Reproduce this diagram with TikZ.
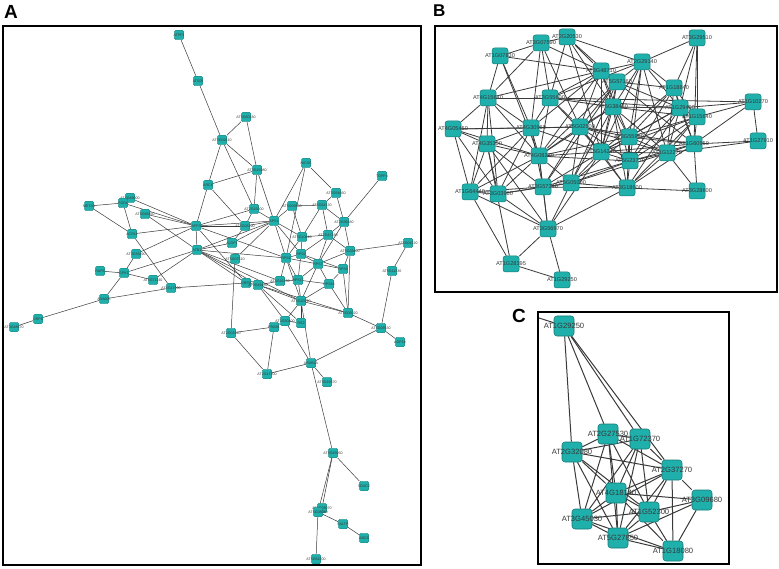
\documentclass[tikz,border=0pt]{standalone}
\usepackage{fontspec}
\setmainfont{Liberation Sans}
\usetikzlibrary{backgrounds}

\definecolor{geneteal}{RGB}{32,176,172}
\definecolor{generim}{RGB}{22,122,120}
\definecolor{linkgray}{RGB}{58,58,58}
\definecolor{namegray}{RGB}{55,55,55}

\tikzset{
    gene/.style={rectangle, draw=generim, fill=geneteal, inner sep=0pt},
    geneA/.style={gene, minimum size=9.5pt, rounded corners=1.5pt, line width=0.35pt},
    geneB/.style={gene, minimum size=16pt, rounded corners=2.5pt, line width=0.5pt},
    geneC/.style={gene, minimum size=20pt, rounded corners=3pt, line width=0.6pt},
    panel/.style={draw=black, line width=1.1pt},
    letter/.style={font=\bfseries\fontsize{19}{19}\selectfont, anchor=base west, inner sep=0pt}
}

\begin{document}
\begin{tikzpicture}[x=1pt, y=-1pt]
    \useasboundingbox (0,0) rectangle (779,569);

    % panel frames and letters
    \draw[panel] (3,26) rectangle (421,565);
    \draw[panel] (435,26) rectangle (777,292);
    \draw[panel] (538,312) rectangle (729,564);
    \node[letter] (letA) at (4,19) {A};
    \node[letter, font=\bfseries\fontsize{17}{17}\selectfont] (letB) at (433,17) {B};
    \node[letter] (letC) at (512,323) {C};

    % ---- panel A ----
    \begin{scope}[every label/.style={font=\fontsize{3.6}{4}\selectfont, text=namegray, inner sep=0pt}]
    \foreach \nm/\x/\y/\lb in {a1/179/35/ATPF1, a2/198/81/ATSDI, a3/246/117/AT5G60180, a4/222/140/AT5G02610,
        a5/257/170/AT3G15980, a6/306/163/NICSS, a7/208/185/ARC6, a8/336/193/AT5G54660, a9/382/176/TOPP4,
        a10/130/198/AT5G49000, a11/89/206/METS1, a12/123/203/PGDL, a13/145/214/AT5G66850, a14/132/234/ACR11,
        a15/136/254/AT3G36490, a16/100/271/RAF6, a17/124/273/GPK1, a18/153/280/AT5G71140, a19/171/288/AT5G17990,
        a20/104/299/ARA005, a21/38/319/GRP8, a22/14/327/AT3G48670, a23/196/226/AFP3, a24/197/250/ATB1,
        a25/254/209/AT2G15000, a26/292/206/AT5G09830, a27/322/205/AT5G64130, a28/274/221/APS1,
        a29/245/226/AT5G06290, a30/344/222/AT2G36880, a31/232/243/ALDP1, a32/235/259/AT5G07510,
        a33/302/237/AT5G10810, a34/328/235/AT2G47180, a35/350/251/AT5G38400, a36/286/258/RPS1,
        a37/301/254/RPS2, a38/318/264/RPS7, a39/343/269/RPS9, a40/408/243/AT5G04220, a41/392/271/AT5G11230,
        a42/246/283/GRP9, a43/258/285/AT3G49480, a44/280/281/AT5G16130, a45/298/280/RPS17, a46/329/284/RPS18,
        a47/301/301/AT5G20290, a48/348/313/AT5G06020, a49/285/321/AT3G50400, a50/301/323/RS2,
        a51/274/327/PRAB1, a52/231/333/AT2G01540, a53/381/328/AT5G09530, a54/400/342/AGP18,
        a55/311/363/ARAB1A, a56/267/374/AT2G17200, a57/327/382/AT5G19370, a58/333/453/AT5G45050,
        a59/364/486/SDAC2, a60/322/508/AT5G08070, a61/318/512/AT5G08080, a62/343/524/SALTP,
        a63/364/538/ABCB, a64/316/559/AT5G62200}
        \node[geneA, label={center:\lb}] (\nm) at (\x,\y) {};
    \end{scope}
    \begin{pgfonlayer}{background}
    \foreach \u/\v in {a1/a2, a2/a4, a3/a4, a3/a5, a4/a5, a4/a7, a4/a25, a5/a7, a5/a25, a5/a28, a7/a23, a7/a29,
        a6/a28, a6/a36, a6/a8, a8/a27, a8/a30, a9/a30, a11/a12, a11/a14, a12/a10, a12/a14, a10/a23, a12/a23,
        a13/a23, a13/a24, a14/a23, a14/a19, a15/a23, a15/a17, a16/a17, a17/a18, a17/a20, a17/a24, a18/a24,
        a20/a21, a21/a22, a20/a19, a19/a42, a23/a24, a23/a29, a23/a25, a23/a28, a23/a42, a23/a36, a24/a31,
        a24/a28, a24/a42, a24/a43, a24/a36, a24/a47, a24/a44, a25/a28, a25/a29, a28/a26, a28/a33, a28/a36,
        a28/a37, a28/a32, a29/a28, a31/a28, a26/a27, a26/a33, a27/a30, a27/a34, a27/a33, a30/a34, a30/a35,
        a30/a38, a33/a34, a33/a37, a33/a36, a34/a37, a34/a38, a34/a35, a35/a40, a35/a38, a35/a39, a35/a48,
        a36/a37, a36/a38, a36/a44, a36/a45, a36/a47, a37/a38, a37/a45, a37/a39, a38/a39, a38/a45, a38/a46,
        a38/a47, a39/a46, a39/a48, a40/a41, a41/a53, a45/a44, a44/a43, a43/a42, a43/a47, a43/a49, a43/a50,
        a43/a48, a45/a47, a45/a46, a46/a47, a46/a48, a47/a50, a47/a49, a47/a48, a32/a52, a31/a29, a49/a51,
        a49/a50, a48/a53, a53/a55, a53/a54, a52/a51, a52/a56, a51/a56, a55/a56, a55/a49, a55/a47, a55/a57,
        a55/a58, a58/a61, a58/a60, a58/a59, a61/a62, a62/a63, a61/a64}
        \draw[linkgray, line width=0.5pt] (\u) -- (\v);
    \end{pgfonlayer}

    % ---- panel B ----
    \begin{scope}[every label/.style={font=\fontsize{5.6}{6}\selectfont, text=namegray, inner sep=0pt}]
    \foreach \nm/\x/\y/\lb in {b1/500/56/AT1G07830, b2/541/43/AT3G07590, b3/567/37/AT2G20530, b4/697/38/AT3G29510,
        b5/642/62/AT2G29140, b6/601/71/AT3G48710, b7/617/82/AT5G57160, b8/674/88/AT1G18840,
        b9/488/98/AT4G15640, b10/550/98/AT3G55600, b11/613/107/AT5G38480, b12/680/108/AT1G29400,
        b13/753/102/AT1G10270, b14/697/117/AT1G15640, b15/453/129/AT4G05450, b16/531/128/AT4G30960,
        b17/580/127/AT5G02500, b18/629/137/AT3G55980, b19/487/144/AT4G35300, b20/694/144/AT1G60950,
        b21/758/141/AT1G27910, b22/601/152/AT5G14240, b23/667/153/AT1G12270, b24/539/156/AT4G08230,
        b25/630/161/AT5G23730, b26/470/192/AT1G64440, b27/498/194/AT3G03960, b28/543/187/AT3G57340,
        b29/571/183/AT5G05000, b30/627/188/AT3G18600, b31/697/191/AT3G28600, b32/548/229/AT3G56970,
        b33/511/264/AT1G28395, b34/562/280/AT1G29250}
        \node[geneB, label={center:\lb}] (\nm) at (\x,\y) {};
    \end{scope}
    \begin{pgfonlayer}{background}
    \foreach \u/\v in {b1/b2, b1/b6, b1/b9, b1/b16, b1/b24, b2/b3, b2/b10, b2/b6, b2/b16, b2/b17, b2/b9,
        b3/b6, b3/b7, b3/b10, b3/b11, b3/b22, b3/b5, b4/b8, b4/b14, b4/b20, b4/b12, b4/b5,
        b5/b6, b5/b7, b5/b8, b5/b11, b5/b22, b5/b12, b5/b23, b5/b25, b5/b18, b5/b10,
        b6/b7, b6/b10, b6/b9, b6/b11, b6/b16, b6/b17, b6/b24, b6/b22, b6/b18,
        b7/b8, b7/b11, b7/b17, b7/b12, b7/b20, b7/b22, b7/b24, b7/b29, b7/b28,
        b8/b12, b8/b14, b8/b18, b8/b20, b8/b23, b8/b22, b8/b25,
        b9/b10, b9/b15, b9/b19, b9/b16, b9/b24, b9/b26, b9/b27,
        b10/b11, b10/b16, b10/b17, b10/b24, b10/b13, b10/b12, b10/b22,
        b11/b12, b11/b17, b11/b18, b11/b22, b11/b25, b11/b23, b11/b24, b11/b29, b11/b30, b11/b14,
        b12/b14, b12/b18, b12/b20, b12/b23, b12/b25, b12/b13, b12/b30, b12/b22,
        b13/b21, b13/b14, b13/b20, b14/b20, b14/b23, b14/b25, b14/b18, b14/b30, b14/b22,
        b15/b16, b15/b19, b15/b26, b15/b17, b15/b24, b15/b27,
        b16/b17, b16/b19, b16/b24, b16/b28, b16/b22, b16/b27, b16/b26,
        b17/b18, b17/b22, b17/b24, b17/b25, b17/b28, b17/b29, b17/b20, b17/b23, b17/b30,
        b18/b20, b18/b22, b18/b23, b18/b25, b18/b30, b18/b29, b18/b24,
        b19/b24, b19/b26, b19/b27, b19/b28, b19/b32, b19/b33,
        b20/b21, b20/b23, b20/b31, b20/b25, b20/b22, b20/b30, b21/b23,
        b22/b23, b22/b24, b22/b25, b22/b28, b22/b29, b22/b30, b22/b32,
        b23/b25, b23/b30, b23/b31, b23/b29, b24/b27, b24/b28, b24/b29, b24/b32, b24/b26, b24/b25,
        b25/b29, b25/b30, b25/b28, b26/b27, b26/b32, b26/b33, b26/b28, b27/b28, b27/b32, b27/b29,
        b28/b29, b28/b30, b28/b32, b29/b30, b29/b32, b30/b32, b30/b31, b32/b33, b32/b34, b33/b34}
        \draw[linkgray, line width=0.8pt] (\u) -- (\v);
    \end{pgfonlayer}

    % ---- panel C ----
    \begin{scope}[every label/.style={font=\fontsize{7.6}{8}\selectfont, text=namegray, inner sep=0pt}]
    \foreach \nm/\x/\y/\lb in {c1/564/326/AT1G29250, c2/608/434/AT2G27530, c3/640/439/AT1G72370,
        c4/572/452/AT2G32080, c5/672/470/AT2G37270, c6/616/493/AT4G18140, c7/702/500/AT3G09680,
        c8/649/512/AT1G52300, c9/582/519/AT3G45030, c10/618/538/AT5G27850, c11/673/551/AT1G18080}
        \node[geneC, label={center:\lb}] (\nm) at (\x,\y) {};
    \end{scope}
    \coordinate (cin) at (539,318);
    \begin{pgfonlayer}{background}
    \draw[linkgray, line width=1pt] (cin) -- (c1);
    \foreach \u/\v in {c1/c4, c1/c2, c1/c3, c1/c5, c2/c3, c2/c4, c2/c5, c2/c6, c2/c8, c2/c10, c2/c9,
        c3/c4, c3/c5, c3/c6, c3/c8, c3/c10, c3/c9, c4/c5, c4/c6, c4/c9, c4/c10, c4/c8,
        c5/c6, c5/c7, c5/c8, c5/c11, c5/c10, c5/c9, c6/c7, c6/c8, c6/c9, c6/c10, c6/c11,
        c7/c8, c7/c11, c7/c10, c8/c9, c8/c10, c8/c11, c9/c10, c9/c11, c10/c11}
        \draw[linkgray, line width=1pt] (\u) -- (\v);
    \end{pgfonlayer}
\end{tikzpicture}
\end{document}
